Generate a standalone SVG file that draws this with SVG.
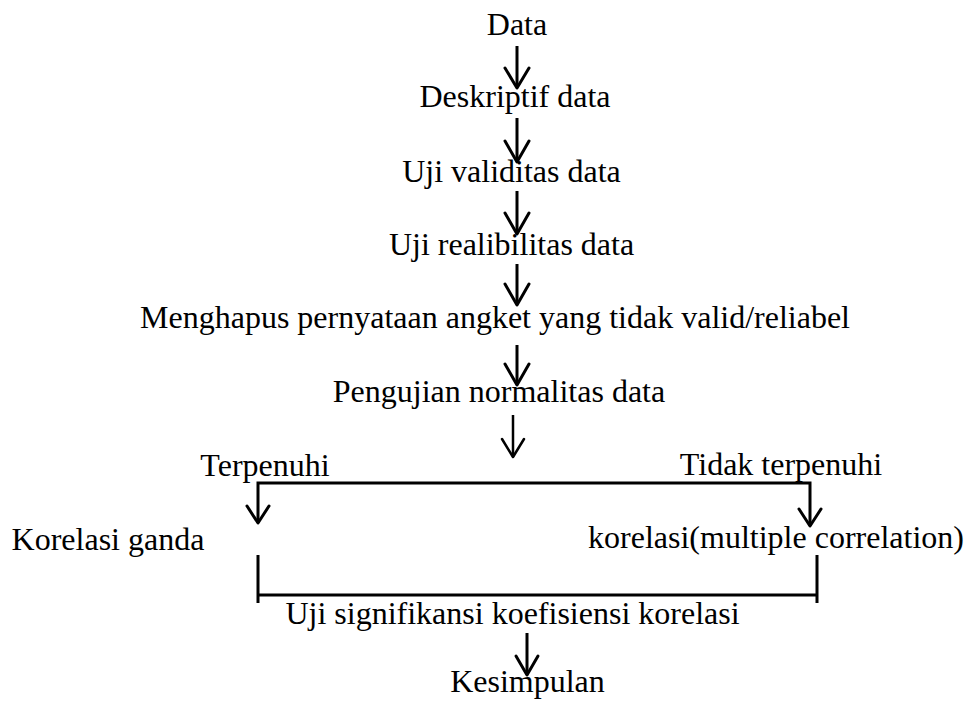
<svg xmlns="http://www.w3.org/2000/svg" width="972" height="707" viewBox="0 0 972 707">
<style>
text{font-family:"Liberation Serif","Times New Roman",serif;font-size:32px;fill:#000}
.c{text-anchor:middle}
.ln{stroke:#000;stroke-width:3;fill:none}
.ah{stroke:#000;stroke-width:3;fill:none;stroke-linecap:round;stroke-linejoin:round}
</style>
<rect width="972" height="707" fill="#fff"/>
<g id="n-data"><text class="c" x="517" y="35">Data</text></g>
<g id="n-deskriptif"><text class="c" x="515" y="107">Deskriptif data</text></g>
<g id="n-validitas"><text class="c" x="511.5" y="182">Uji validitas data</text></g>
<g id="n-realibilitas"><text class="c" x="511.5" y="255">Uji realibilitas data</text></g>
<g id="n-menghapus"><text class="c" x="495" y="328">Menghapus pernyataan angket yang tidak valid/reliabel</text></g>
<g id="n-normalitas"><text class="c" x="499" y="402">Pengujian normalitas data</text></g>
<g id="n-terpenuhi"><text class="c" x="265" y="476">Terpenuhi</text></g>
<g id="n-tidak"><text class="c" x="781" y="475">Tidak terpenuhi</text></g>
<g id="n-ganda"><text class="c" x="108" y="550">Korelasi ganda</text></g>
<g id="n-multiple"><text class="c" x="776" y="548">korelasi(multiple correlation)</text></g>
<g id="n-uji"><text class="c" x="512.5" y="624">Uji signifikansi koefisiensi korelasi</text></g>
<g id="n-kesimpulan"><text class="c" x="527.5" y="692">Kesimpulan</text></g>
<g id="connectors">
<path class="ln" d="M517 46V87"/><path class="ah" d="M505 68L517 88L529 68"/>
<path class="ln" d="M517 118V161"/><path class="ah" d="M505 141L517 162L529 141"/>
<path class="ln" d="M517 191V233"/><path class="ah" d="M505 213L517 234L529 213"/>
<path class="ln" d="M517 264V304"/><path class="ah" d="M505 284L517 305L529 284"/>
<path class="ln" d="M517 345V384"/><path class="ah" d="M505 364L517 385L529 364"/>
<path class="ln" d="M513 415V457" style="stroke-width:2.5"/><path class="ah" d="M502 439L513 457L524 439" style="stroke-width:2.5"/>
<path class="ln" d="M258 523V483H810V526"/>
<path class="ah" d="M247 506L258 523L269 506"/>
<path class="ah" d="M799 509L810 526L821 509"/>
<path class="ln" d="M258 555V603M258 595H817M817 555V603"/>
<path class="ln" d="M527 633V674"/><path class="ah" d="M516 656L527 675L538 656"/>
</g>
</svg>
